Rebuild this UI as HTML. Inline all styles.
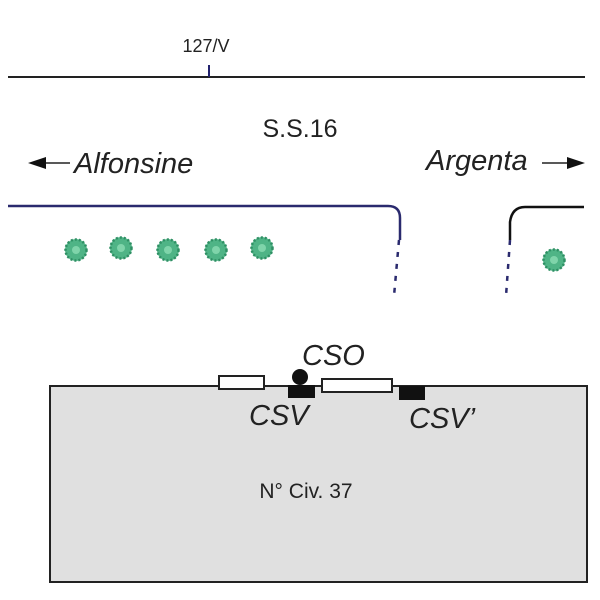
<!DOCTYPE html>
<html><head><style>body{margin:0;background:#fff}svg{display:block}</style></head><body>
<svg width="600" height="600" viewBox="0 0 600 600" xmlns="http://www.w3.org/2000/svg" font-family="Liberation Sans, sans-serif">
<defs>
<g id="tree"><circle r="11" fill="#4fb486"/><circle r="10.5" fill="none" stroke="#2f8f64" stroke-width="2.5" stroke-dasharray="2 2"/><circle r="4" fill="#7fd4aa"/></g>
</defs>
<line x1="8" y1="77" x2="585" y2="77" stroke="#222" stroke-width="2"/>
<line x1="209" y1="65" x2="209" y2="77" stroke="#22226e" stroke-width="2"/>
<text x="206" y="52" font-size="18" text-anchor="middle" fill="#222">127/V</text>
<text x="300" y="137" font-size="25" text-anchor="middle" fill="#222">S.S.16</text>
<text x="74" y="173" font-size="29" font-style="italic" fill="#222">Alfonsine</text>
<text x="426" y="170" font-size="29" font-style="italic" fill="#222">Argenta</text>
<line x1="44" y1="163" x2="70" y2="163" stroke="#222" stroke-width="1.5"/>
<polygon points="28,163 46,157 46,169" fill="#111"/>
<line x1="542" y1="163" x2="568" y2="163" stroke="#222" stroke-width="1.5"/>
<polygon points="585,163 567,157 567,169" fill="#111"/>
<path d="M8,206 H388 Q400,206 400,218 V240" fill="none" stroke="#2a2a6e" stroke-width="2.5"/>
<line x1="399" y1="240" x2="394" y2="296" stroke="#2a2a6e" stroke-width="2.5" stroke-dasharray="5 7"/>
<path d="M510,240 V222 Q512,207 525,207 H584" fill="none" stroke="#111" stroke-width="2.5"/>
<line x1="510" y1="240" x2="506" y2="296" stroke="#2a2a6e" stroke-width="2.5" stroke-dasharray="5 7"/>
<use href="#tree" x="76" y="250"/><use href="#tree" x="121" y="248"/><use href="#tree" x="168" y="250"/><use href="#tree" x="216" y="250"/><use href="#tree" x="262" y="248"/><use href="#tree" x="554" y="260"/>
<rect x="50" y="386" width="537" height="196" fill="#e0e0e0" stroke="#222" stroke-width="2"/>
<rect x="219" y="376" width="45" height="13" fill="#fff" stroke="#222" stroke-width="2"/>
<rect x="322" y="379" width="70" height="13" fill="#fff" stroke="#222" stroke-width="2"/>
<rect x="288" y="385" width="27" height="13" fill="#111"/>
<rect x="399" y="386" width="26" height="14" fill="#111"/>
<circle cx="300" cy="377" r="8" fill="#111"/>
<text x="302" y="365" font-size="29" font-style="italic" fill="#222">CSO</text>
<text x="249" y="425" font-size="29" font-style="italic" fill="#222">CSV</text>
<text x="409" y="428" font-size="29" font-style="italic" fill="#222">CSV’</text>
<text x="306" y="498" font-size="21" text-anchor="middle" fill="#222">N° Civ. 37</text>
</svg>
</body></html>
